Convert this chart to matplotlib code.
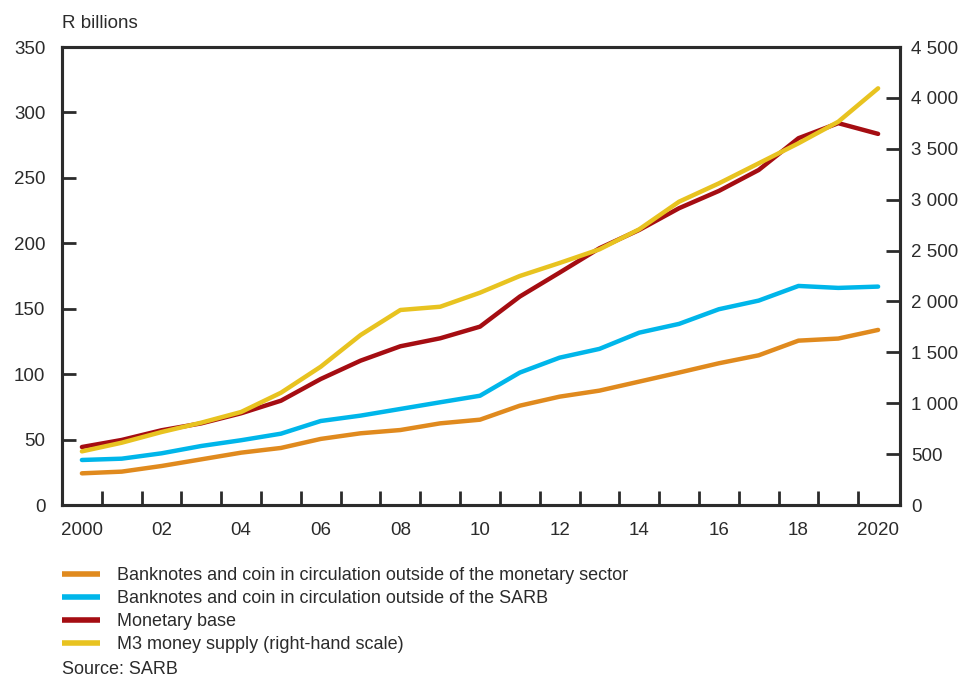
import matplotlib
matplotlib.use("Agg")
import matplotlib.pyplot as plt
from matplotlib.ticker import FuncFormatter, FixedLocator

plt.rcParams['font.family'] = ['Liberation Sans', 'DejaVu Sans']

years = list(range(2000, 2021))
notes_outside_monetary = [24.2, 25.5, 29.8, 34.9, 40.0, 43.6, 50.5, 54.8, 57.3, 62.4, 65.2,
                          75.9, 82.8, 87.4, 94.3, 101.2, 108.3, 114.4, 125.6, 127.2, 133.8]
notes_outside_sarb = [34.4, 35.4, 39.5, 45.1, 49.5, 54.5, 64.2, 68.3, 73.4, 78.5, 83.5,
                      101.2, 112.6, 119.3, 131.7, 138.4, 149.6, 156.2, 167.4, 165.9, 166.9]
monetary_base = [44.3, 49.7, 57.1, 62.4, 70.1, 79.7, 96.3, 110.3, 121.3, 127.4, 136.3,
                 159.3, 177.6, 196.2, 210.2, 226.8, 240.0, 256.0, 280.3, 291.8, 283.6]
m3_supply = [527, 612, 717, 809, 914, 1103, 1359, 1670, 1916, 1948, 2086,
             2250, 2378, 2512, 2709, 2980, 3160, 3357, 3554, 3766, 4094]

x_label_years = [2000, 2002, 2004, 2006, 2008, 2010, 2012, 2014, 2016, 2018, 2020]
x_labels = ["2000", "02", "04", "06", "08", "10", "12", "14", "16", "18", "2020"]
left_ticks = [0, 50, 100, 150, 200, 250, 300, 350]
right_ticks = [0, 500, 1000, 1500, 2000, 2500, 3000, 3500, 4000, 4500]

labels = ["Banknotes and coin in circulation outside of the monetary sector",
          "Banknotes and coin in circulation outside of the SARB",
          "Monetary base",
          "M3 money supply (right-hand scale)"]
colors = ["#E08A1E", "#00B6EA", "#A50D12", "#E8C320"]

txt = "#2b2b2b"
fig = plt.figure(figsize=(9.69, 6.79), dpi=100)
ax = fig.add_axes([62/969, 1-505/679, (900-62)/969, (505-47)/679])
ax2 = ax.twinx()

lw = 3.2
l1, = ax.plot(years, notes_outside_monetary, color=colors[0], lw=lw, solid_capstyle='round')
l2, = ax.plot(years, notes_outside_sarb, color=colors[1], lw=lw, solid_capstyle='round')
l3, = ax.plot(years, monetary_base, color=colors[2], lw=lw, solid_capstyle='round')
l4, = ax2.plot(years, m3_supply, color=colors[3], lw=lw, solid_capstyle='round')
ax2.set_zorder(ax.get_zorder() + 1)
ax.patch.set_visible(False)

ax.set_xlim(1999.5, 2020.55)
ax.set_ylim(0, 350)
ax2.set_ylim(0, 4500)

ax.set_xticks([y + 0.5 for y in years[:-1]])
ax.set_xticklabels([])
ax.xaxis.set_minor_locator(FixedLocator(x_label_years))
ax.set_xticklabels(x_labels, minor=True)
ax.tick_params(axis='x', which='minor', length=0, pad=12, labelsize=13.5, labelcolor=txt)
ax.tick_params(axis='x', which='major', direction='in', length=10, width=2, color='#2b2b2b')

ax.set_yticks(left_ticks)
ax.tick_params(axis='y', direction='in', length=10, width=2, color='#2b2b2b',
               labelsize=13.5, labelcolor=txt, pad=12)
ax2.set_yticks(right_ticks)
ax2.yaxis.set_major_formatter(FuncFormatter(lambda v, p: f"{int(v):,}".replace(",", " ")))
ax2.tick_params(axis='y', direction='in', length=10, width=2, color='#2b2b2b',
                labelsize=13.5, labelcolor=txt, pad=8)

for a in (ax, ax2):
    for s in a.spines.values():
        s.set_linewidth(2.2)
        s.set_color('#2b2b2b')

fig.text(62/969, 1-23/679, "R billions", fontsize=13.5, color=txt, va='center', ha='left')

leg = fig.legend([l1, l2, l3, l4], labels, loc='upper left',
                 bbox_to_anchor=(62/969, 1-567/679), frameon=False, fontsize=13,
                 handlelength=2.1, handletextpad=0.94, labelspacing=0.34, labelcolor=txt,
                 borderaxespad=0, borderpad=0)
for h in leg.legend_handles:
    h.set_linewidth(4)
    h.set_solid_capstyle('butt')

fig.text(62/969, 1-670/679, "Source: SARB", fontsize=13, color=txt, va='center', ha='left')

fig.savefig("out.png", dpi=100)
